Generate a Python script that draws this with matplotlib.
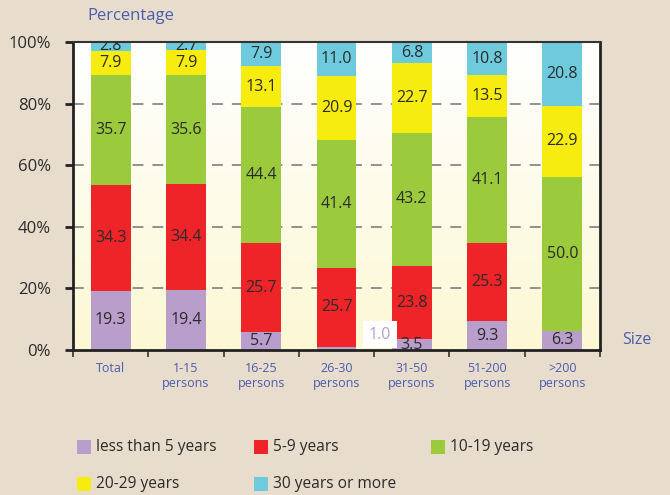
import numpy as np
import matplotlib.pyplot as plt
from matplotlib.patches import Rectangle

# Data
categories = ['Total', '1-15\npersons', '16-25\npersons', '26-30\npersons',
              '31-50\npersons', '51-200\npersons', '>200\npersons']
series = ['less than 5 years', '5-9 years', '10-19 years', '20-29 years', '30 years or more']
lt5 = [19.3, 19.4, 5.7, 1.0, 3.5, 9.3, 6.3]
y5_9 = [34.3, 34.4, 28.9, 25.7, 23.8, 25.3, 0.0]
y10_19 = [35.7, 35.6, 44.4, 41.4, 43.2, 41.1, 50.0]
y20_29 = [7.9, 7.9, 13.1, 20.9, 22.7, 13.5, 22.9]
y30 = [2.8, 2.7, 7.9, 11.0, 6.8, 10.8, 20.8]
# labels as printed on the original chart
lbl_5_9 = ['34.3', '34.4', '25.7', '25.7', '23.8', '25.3', '']

colors = ['#B99DCB', '#EE2428', '#9BCA3C', '#F7EC0F', '#6DCBDD']
bg = '#E8DCCD'
txt_blue = '#4B5DAE'
txt_dark = '#2b2b2b'

plt.rcParams['font.family'] = ['Open Sans', 'DejaVu Sans']

fig = plt.figure(figsize=(6.7, 4.95), dpi=100, facecolor=bg)
ax = fig.add_axes([0.109, 0.293, 0.7866, 0.622])

# gradient background of plot area
grad = np.linspace(0, 1, 256).reshape(-1, 1)
top = np.array([1.0, 1.0, 1.0])
bot = np.array([0xFC, 0xF8, 0xD4]) / 255
img = top + (bot - top) * grad[:, :, None]
ax.imshow(img, extent=[0, 1, 0, 1], transform=ax.transAxes, aspect='auto', zorder=0)

x = np.arange(len(categories))
data = [lt5, y5_9, y10_19, y20_29, y30]
bottom = np.zeros(len(categories))
for i, vals in enumerate(data):
    vals = np.array(vals)
    ax.bar(x, vals, width=0.53, bottom=bottom, color=colors[i], label=series[i], zorder=2)
    for j, v in enumerate(vals):
        if v <= 0:
            continue
        if i == 0 and j == 3:
            continue
        lab = lbl_5_9[j] if i == 1 else f'{v:.1f}'
        ax.text(x[j], bottom[j] + v / 2, lab, ha='center', va='center',
                fontsize=11.5, color=txt_dark, zorder=3, clip_on=True)
    bottom += vals

# small segment label put beside the bar
ax.text(3.58, 4.9, f'{lt5[3]:.1f}', ha='center', va='center', fontsize=11.5,
        color='#B99DCB', zorder=4,
        bbox=dict(facecolor='white', edgecolor='none', pad=4))

ax.set_xlim(-0.5, len(categories) - 0.5)
ax.set_ylim(0, 100)
ax.set_yticks([0, 20, 40, 60, 80, 100])
ax.set_yticklabels(['0%', '20%', '40%', '60%', '80%', '100%'], fontsize=12, color=txt_dark)
for yv in [20, 40, 60, 80]:
    ax.axhline(yv, color='#888888', lw=1.3, ls=(0, (6, 5)), zorder=1)

ax.set_xticks(np.arange(len(categories) + 1) - 0.5)
ax.set_xticklabels([])
ax.set_xticks(x, minor=True)
ax.set_xticklabels(categories, minor=True, fontsize=9, color=txt_blue)
ax.tick_params(axis='x', which='minor', length=0, pad=9)
ax.tick_params(axis='x', which='major', length=5, width=1.2, color='#333333')
ax.tick_params(axis='y', length=6, width=2, color='#222222', pad=10)

for side in ['left', 'bottom']:
    ax.spines[side].set_linewidth(2)
    ax.spines[side].set_color('#222222')
ax.spines['top'].set_linewidth(1.5)
ax.spines['top'].set_color('#333333')
ax.spines['right'].set_linewidth(2)
ax.spines['right'].set_color('#222222')

fig.text(87 / 670, 1 - 16 / 495, 'Percentage', fontsize=12, color=txt_blue, va='center', ha='left')
fig.text(622 / 670, 1 - 340 / 495, 'Size', fontsize=11.5, color=txt_blue, va='center', ha='left')

# legend
leg_pos = [(77, 447), (254, 447), (431, 447), (77, 484), (254, 484)]
for (px, py), c, s in zip(leg_pos, colors, series):
    fig.patches.append(Rectangle((px / 670, 1 - (py + 7) / 495), 14 / 670, 14 / 495,
                                 transform=fig.transFigure, facecolor=c, edgecolor='none'))
    fig.text((px + 19) / 670, 1 - py / 495, s, fontsize=11.2, color=txt_dark, va='center', ha='left')

fig.savefig('out.png', dpi=100, facecolor=bg)
